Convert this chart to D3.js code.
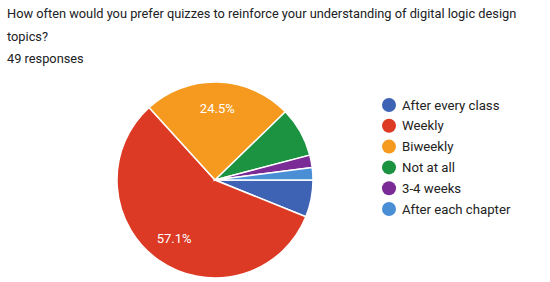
<!DOCTYPE html>
<html>
<head>
<meta charset="utf-8">
<script src="https://cdn.jsdelivr.net/npm/d3@7"></script>
<style>
  body { margin: 0; background: #fff; font-family: Roboto, Arial, sans-serif; }
  svg { display: block; }
</style>
</head>
<body>
<div id="graphic"></div>
<script>
// chart data
const titleLines = ["How often would you prefer quizzes to reinforce your understanding of digital logic design", "topics?"];
const responsesText = "49 responses";
const categories = ["After every class", "Weekly", "Biweekly", "Not at all", "3-4 weeks", "After each chapter"];
const counts = [3, 28, 12, 4, 1, 1];
const colours = ["#3e63b5", "#dc3a24", "#f6991f", "#1b9340", "#7b2b96", "#4a8ed6"];

const width = 550, height = 282;
const cx = 215, cy = 180, radius = 98;

const svg = d3.select('#graphic').append('svg')
  .attr('width', width).attr('height', height);

// header text
svg.selectAll('text.title')
  .data(titleLines)
  .join('text')
  .attr('class', 'title')
  .attr('x', 7)
  .attr('y', (d, i) => 18 + i * 22.5)
  .attr('font-size', 12.8)
  .attr('fill', '#202124')
  .text(d => d);

svg.append('text')
  .attr('x', 7).attr('y', 63)
  .attr('font-size', 12.8)
  .attr('fill', '#202124')
  .text(responsesText);

const total = d3.sum(counts);
const data = categories.map((c, i) => ({ name: c, value: counts[i], colour: colours[i] }));

// pie starts at 3 o'clock and goes clockwise
const pie = d3.pie().value(d => d.value).sort(null)
  .startAngle(Math.PI / 2).endAngle(Math.PI / 2 + 2 * Math.PI);
const arc = d3.arc().innerRadius(0).outerRadius(radius);
const labelArc = d3.arc().innerRadius(radius * 0.73).outerRadius(radius * 0.73);

const g = svg.append('g').attr('transform', `translate(${cx},${cy})`);

const arcs = pie(data);

g.selectAll('path.slice')
  .data(arcs)
  .join('path')
  .attr('class', 'slice')
  .attr('d', arc)
  .attr('fill', d => d.data.colour)
  .attr('stroke', '#fff')
  .attr('stroke-width', 1.5);

// only large slices get percentage labels
g.selectAll('text.pct')
  .data(arcs.filter(d => d.data.value / total > 0.1))
  .join('text')
  .attr('class', 'pct')
  .attr('transform', d => `translate(${labelArc.centroid(d)})`)
  .attr('text-anchor', 'middle')
  .attr('dy', '0.35em')
  .attr('font-size', 13)
  .attr('fill', '#fff')
  .text(d => d3.format('.1%')(d.data.value / total));

// legend
const legend = svg.append('g').attr('transform', 'translate(389,105)');
const items = legend.selectAll('g.item')
  .data(data)
  .join('g')
  .attr('class', 'item')
  .attr('transform', (d, i) => `translate(0,${i * 20.8})`);

items.append('circle')
  .attr('r', 7)
  .attr('fill', d => d.colour);

items.append('text')
  .attr('x', 13)
  .attr('dy', '0.35em')
  .attr('font-size', 13.2)
  .attr('fill', '#222')
  .text(d => d.name);
</script>
</body>
</html>
